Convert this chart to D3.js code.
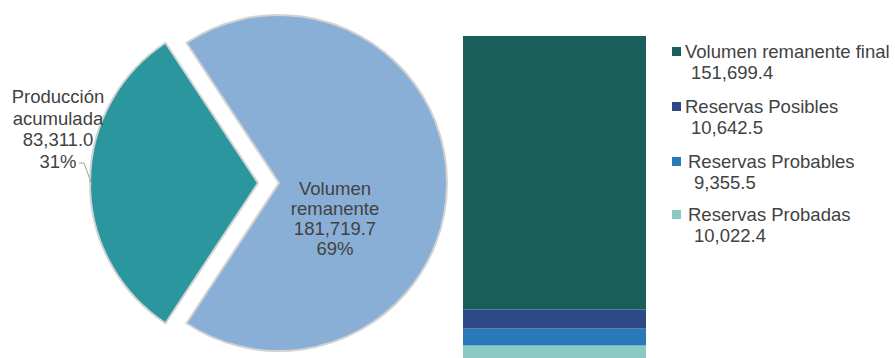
<!DOCTYPE html>
<html lang="es">
<head>
<meta charset="UTF-8">
<title>Volumen remanente y reservas</title>
<script src="https://cdn.jsdelivr.net/npm/d3@7"></script>
<style>
    body { margin: 0; background: #fff; }
    svg text { font-family: Arial, "Liberation Sans", sans-serif; fill: #424242; font-size: 18.5px; }
</style>
</head>
<body>
<svg id="chart" width="895" height="358"></svg>
<script>
// pie: volumen original split
const pieNames = ["Volumen remanente", "Producción acumulada"];
const pieValues = [181719.7, 83311.0];
const piePct = ["69%", "31%"];
const pieColors = ["#8aafd6", "#2a979f"];

// stacked bar, bottom to top
const barNames = ["Reservas Probadas", "Reservas Probables", "Reservas Posibles", "Volumen remanente final"];
const barValues = [10022.4, 9355.5, 10642.5, 151699.4];
const barColors = ["#8cc9c4", "#2779b8", "#2e4a86", "#1a5e5c"];

const fmt = d3.format(",.1f");
const svg = d3.select("#chart");

// ---- pie ----
const cx = 279, cy = 183, r = 168, explode = 21;
const total = d3.sum(pieValues);
const fProd = pieValues[1] / total;

const pie = d3.pie().sort(null)
    .startAngle(-Math.PI / 2 + Math.PI * fProd)
    .endAngle(-Math.PI / 2 + Math.PI * fProd + 2 * Math.PI);
const arc = d3.arc().innerRadius(0).outerRadius(r);
const arcs = pie(pieValues);

const pg = svg.append("g").attr("transform", `translate(${cx},${cy})`);
pg.selectAll("path")
    .data(arcs)
    .join("path")
    .attr("d", arc)
    .attr("fill", (d, i) => pieColors[i])
    .attr("stroke", "#d2d2d2")
    .attr("stroke-width", 2)
    .attr("transform", (d, i) => {
        if (i === 0) return null;
        const a = (d.startAngle + d.endAngle) / 2;
        return `translate(${Math.sin(a) * explode},${-Math.cos(a) * explode})`;
    });

// label inside big slice
const bigLines = ["Volumen", "remanente", fmt(pieValues[0]), piePct[0]];
svg.append("text")
    .attr("text-anchor", "middle")
    .selectAll("tspan")
    .data(bigLines)
    .join("tspan")
    .attr("x", 335)
    .attr("y", (d, i) => 195 + i * 20)
    .text(d => d);

// label outside small slice
const smallLines = ["Producción", "acumulada", fmt(pieValues[1]), piePct[1]];
svg.append("text")
    .attr("text-anchor", "middle")
    .selectAll("tspan")
    .data(smallLines)
    .join("tspan")
    .attr("x", 58)
    .attr("y", (d, i) => 103 + i * 21.5)
    .text(d => d);

svg.append("polyline")
    .attr("points", "79,163 84,163 92,185")
    .attr("fill", "none")
    .attr("stroke", "#a0a0a0")
    .attr("stroke-width", 1);

// ---- stacked bar ----
const barTotal = d3.sum(barValues);
const y = d3.scaleLinear().domain([0, barTotal]).range([363.5, 36]);
const x = d3.scaleBand().domain(["bar"]).range([463, 646]).padding(0);

const stacked = [];
let acc = 0;
barValues.forEach((v, i) => { stacked.push({ i, y0: acc, y1: acc + v }); acc += v; });

svg.append("g").selectAll("rect")
    .data(stacked)
    .join("rect")
    .attr("x", x("bar"))
    .attr("width", x.bandwidth())
    .attr("y", d => y(d.y1))
    .attr("height", d => y(d.y0) - y(d.y1))
    .attr("fill", d => barColors[d.i]);

// ---- legend (top to bottom) ----
const legendBase = [58, 113, 168, 221];
const legend = svg.append("g");
const order = [3, 2, 1, 0];
order.forEach((k, j) => {
    const g = legend.append("g");
    g.append("rect")
        .attr("x", 672).attr("y", legendBase[j] - 11)
        .attr("width", 9).attr("height", 9)
        .attr("fill", barColors[k]);
    g.append("text").attr("x", j < 2 ? 685 : 688).attr("y", legendBase[j]).text(barNames[k]);
    g.append("text").attr("x", j < 2 ? 691 : 694).attr("y", legendBase[j] + 21).text(fmt(barValues[k]));
});
</script>
</body>
</html>
